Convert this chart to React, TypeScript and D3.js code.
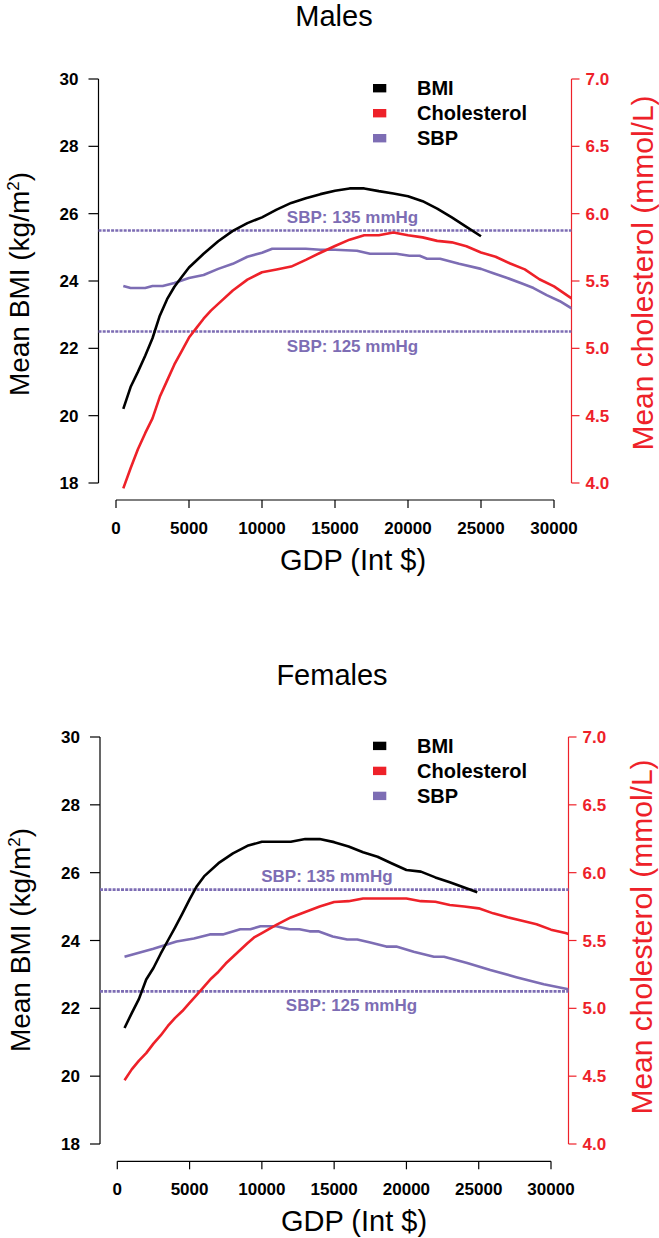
import React from "react";
import * as d3 from "d3";

// ---------- DATA ----------
const xTicks = [0, 5000, 10000, 15000, 20000, 25000, 30000];
const bmiTicks = [18, 20, 22, 24, 26, 28, 30];
const cholTicks = [4.0, 4.5, 5.0, 5.5, 6.0, 6.5, 7.0];
const legendItems = ["BMI", "Cholesterol", "SBP"];
const sbpRefs = [135, 125];

// Males
const maleBmiGdp = [500, 1000, 1500, 2000, 2500, 3000, 3500, 4000, 4500, 5000, 6000, 7000, 8000, 9000, 10000, 11000, 12000, 13000, 14000, 15000, 16000, 17000, 18000, 19000, 20000, 21000, 22000, 23000, 24000, 25000];
const maleBmi = [20.2, 20.85, 21.3, 21.78, 22.3, 22.97, 23.46, 23.83, 24.12, 24.4, 24.81, 25.18, 25.49, 25.72, 25.89, 26.12, 26.32, 26.46, 26.58, 26.68, 26.75, 26.75, 26.67, 26.6, 26.52, 26.37, 26.15, 25.89, 25.61, 25.33];

const maleCholGdp = [500, 1000, 1500, 2000, 2500, 3000, 3500, 4000, 4500, 5000, 5500, 6000, 6500, 7000, 8000, 9000, 10000, 11000, 12000, 13000, 14000, 15000, 16000, 17000, 18000, 19000, 20000, 21000, 22000, 23000, 24000, 25000, 26000, 27000, 28000, 29000, 30000, 31000, 31500];
const maleChol = [3.96, 4.11, 4.25, 4.37, 4.48, 4.64, 4.76, 4.88, 4.98, 5.08, 5.15, 5.22, 5.28, 5.33, 5.43, 5.51, 5.565, 5.585, 5.607, 5.657, 5.71, 5.76, 5.807, 5.84, 5.84, 5.86, 5.84, 5.824, 5.798, 5.787, 5.758, 5.712, 5.68, 5.63, 5.586, 5.513, 5.46, 5.386, 5.35];

const maleSbpGdp = [500, 1000, 2000, 2500, 3200, 4000, 5000, 6000, 7000, 8000, 9000, 10000, 10700, 12000, 13000, 14000, 15000, 16500, 17400, 19200, 20100, 20800, 21300, 22200, 23500, 25000, 25800, 26800, 27900, 28600, 29500, 30400, 31200, 31500];
const maleSbp = [129.5, 129.3, 129.3, 129.5, 129.5, 129.8, 130.3, 130.6, 131.2, 131.7, 132.4, 132.8, 133.2, 133.2, 133.2, 133.1, 133.1, 133.0, 132.7, 132.7, 132.5, 132.5, 132.2, 132.2, 131.7, 131.2, 130.8, 130.3, 129.7, 129.3, 128.6, 128.0, 127.3, 127.1];

// Females
const femBmiGdp = [500, 1000, 1500, 2000, 2500, 3000, 3500, 4000, 4500, 5000, 5500, 6000, 7000, 8000, 9000, 10000, 11000, 12000, 13000, 14000, 15000, 16000, 17000, 18000, 19000, 20000, 21000, 22000, 23000, 24000, 24900];
const femBmi = [21.42, 21.86, 22.28, 22.85, 23.19, 23.61, 24.0, 24.39, 24.79, 25.21, 25.6, 25.89, 26.28, 26.57, 26.79, 26.91, 26.91, 26.91, 26.99, 26.99, 26.9, 26.77, 26.6, 26.47, 26.27, 26.08, 26.03, 25.86, 25.72, 25.56, 25.42];

const femCholGdp = [500, 1000, 1500, 2000, 2500, 3000, 3500, 4000, 4500, 5000, 5500, 6000, 6500, 7000, 7500, 8000, 8500, 9000, 9500, 10000, 11000, 12000, 13000, 14000, 15000, 16000, 17000, 18000, 19000, 20000, 21000, 22000, 23000, 24000, 25000, 26000, 27000, 28000, 29000, 30000, 31000, 31500];
const femChol = [4.47, 4.55, 4.615, 4.67, 4.74, 4.8, 4.87, 4.93, 4.98, 5.04, 5.1, 5.16, 5.22, 5.27, 5.33, 5.38, 5.43, 5.48, 5.525, 5.555, 5.615, 5.67, 5.71, 5.75, 5.784, 5.79, 5.81, 5.81, 5.81, 5.81, 5.79, 5.786, 5.762, 5.75, 5.737, 5.7, 5.671, 5.645, 5.62, 5.58, 5.555, 5.54];

const femSbpGdp = [500, 2500, 4100, 5300, 6400, 7300, 8500, 9200, 9900, 11000, 11900, 12600, 13300, 13900, 14900, 15900, 16600, 17500, 18600, 19300, 20500, 21900, 22600, 24200, 25800, 27600, 29500, 31200, 31500];
const femSbp = [128.4, 129.2, 129.9, 130.2, 130.6, 130.6, 131.1, 131.1, 131.4, 131.4, 131.1, 131.1, 130.9, 130.9, 130.4, 130.1, 130.1, 129.8, 129.4, 129.4, 128.9, 128.4, 128.4, 127.8, 127.1, 126.4, 125.7, 125.2, 125.1];

// annotation x positions (GDP units) for the SBP reference labels
const maleRefLabelX = [16200, 16200];
const femRefLabelX = [14500, 16200];

// ---------- STYLE ----------
const FONT = "'Liberation Sans', Arial, Helvetica, sans-serif";
const RED = "#EE2129";
const PURPLE = "#7D6DB4";
const BLACK = "#000000";

type Panel = {
  title: string;
  titleX: number;
  titleY: number;
  left: number; right: number; top: number; bottom: number;
  x0: number; x1: number; y18: number; y30: number;
  bmiG: number[]; bmi: number[];
  cholG: number[]; chol: number[];
  sbpG: number[]; sbp: number[];
  refLabelX: number[];
  leftLabelX: number; leftLabelY: number;
  rightLabelX: number; rightLabelY: number;
  xLabelX: number;
  id: string;
};

const panels: Panel[] = [
  {
    id: "m", title: "Males", titleX: 334, titleY: 26,
    left: 98.5, right: 571.5, top: 63, bottom: 499,
    x0: 116, x1: 554, y18: 483, y30: 79,
    bmiG: maleBmiGdp, bmi: maleBmi, cholG: maleCholGdp, chol: maleChol, sbpG: maleSbpGdp, sbp: maleSbp,
    refLabelX: maleRefLabelX,
    leftLabelX: 29, leftLabelY: 284, rightLabelX: 653, rightLabelY: 273, xLabelX: 353,
  },
  {
    id: "f", title: "Females", titleX: 332, titleY: 685,
    left: 100, right: 568.5, top: 720.7, bottom: 1160.3,
    x0: 117.3, x1: 551, y18: 1144, y30: 737,
    bmiG: femBmiGdp, bmi: femBmi, cholG: femCholGdp, chol: femChol, sbpG: femSbpGdp, sbp: femSbp,
    refLabelX: femRefLabelX,
    leftLabelX: 30, leftLabelY: 940, rightLabelX: 652, rightLabelY: 937, xLabelX: 354,
  },
];

function PanelView({ p }: { p: Panel }) {
  const x = d3.scaleLinear().domain([0, 30000]).range([p.x0, p.x1]);
  const yB = d3.scaleLinear().domain([18, 30]).range([p.y18, p.y30]);
  const yC = d3.scaleLinear().domain([4, 7]).range([p.y18, p.y30]);
  const yS = d3.scaleLinear().domain([110, 150]).range([p.y18, p.y30]);

  const mk = (gx: number[], vals: number[], ys: d3.ScaleLinear<number, number>) =>
    d3.line<number>().x((_, i) => x(gx[i])).y((v) => ys(v))(vals) || "";

  const clipId = `clip-${p.id}`;
  const legendY0 = p.top + 25;

  return (
    <g>
      <defs>
        <clipPath id={clipId}>
          <rect x={p.left} y={p.top} width={p.right - p.left} height={p.bottom - p.top} />
        </clipPath>
      </defs>
      {/* title */}
      <text x={p.titleX} y={p.titleY} textAnchor="middle" fontSize={29} fontFamily={FONT}>{p.title}</text>

      {/* left axis */}
      <line x1={p.left} x2={p.left} y1={yB(18)} y2={yB(30)} stroke="#000" strokeWidth={1.2} />
      {bmiTicks.map((t) => (
        <g key={`l${t}`}>
          <line x1={p.left - 10} x2={p.left} y1={yB(t)} y2={yB(t)} stroke="#000" strokeWidth={1.2} />
          <text x={p.left - 20} y={yB(t)} dy="0.36em" textAnchor="end" fontSize={17} fontWeight="bold" fontFamily={FONT}>{t}</text>
        </g>
      ))}

      {/* right axis */}
      <line x1={p.right} x2={p.right} y1={yC(4)} y2={yC(7)} stroke={RED} strokeWidth={1.2} />
      {cholTicks.map((t) => (
        <g key={`r${t}`}>
          <line x1={p.right} x2={p.right + 8} y1={yC(t)} y2={yC(t)} stroke={RED} strokeWidth={1.2} />
          <text x={p.right + 14} y={yC(t)} dy="0.36em" textAnchor="start" fontSize={17} fontWeight="bold" fill={RED} fontFamily={FONT}>{t.toFixed(1)}</text>
        </g>
      ))}

      {/* bottom axis */}
      <line x1={x(0)} x2={x(30000)} y1={p.bottom + 1} y2={p.bottom + 1} stroke="#000" strokeWidth={1.2} />
      {xTicks.map((t) => (
        <g key={`x${t}`}>
          <line x1={x(t)} x2={x(t)} y1={p.bottom + 1} y2={p.bottom + 9} stroke="#000" strokeWidth={1.2} />
          <text x={x(t)} y={p.bottom + 35} textAnchor="middle" fontSize={17} fontWeight="bold" fontFamily={FONT}>{t}</text>
        </g>
      ))}

      {/* axis titles */}
      <text x={p.xLabelX} y={p.bottom + 71} textAnchor="middle" fontSize={29} fontFamily={FONT}>GDP (Int $)</text>
      <text transform={`translate(${p.leftLabelX},${p.leftLabelY}) rotate(-90)`} textAnchor="middle" fontSize={28} fontFamily={FONT}>
        Mean BMI (kg/m<tspan dy={-10} fontSize={17}>2</tspan><tspan dy={10}>)</tspan>
      </text>
      <text transform={`translate(${p.rightLabelX},${p.rightLabelY}) rotate(-90)`} textAnchor="middle" fontSize={30} fill={RED} fontFamily={FONT}>Mean cholesterol (mmol/L)</text>

      {/* SBP reference lines */}
      {sbpRefs.map((s, i) => (
        <g key={`ref${s}`}>
          <line x1={p.left} x2={p.right} y1={yS(s)} y2={yS(s)} stroke={PURPLE} strokeWidth={2.6} strokeDasharray="3 1.2" />
          <text x={x(p.refLabelX[i])} y={yS(s) + (i === 0 ? -14 : 14)} dy="0.36em" textAnchor="middle" fontSize={17} fontWeight="bold" fill={PURPLE} fontFamily={FONT}>{`SBP: ${s} mmHg`}</text>
        </g>
      ))}

      {/* data lines */}
      <g clipPath={`url(#${clipId})`} fill="none" strokeLinejoin="round">
        <path d={mk(p.sbpG, p.sbp, yS)} stroke={PURPLE} strokeWidth={2.6} />
        <path d={mk(p.cholG, p.chol, yC)} stroke={RED} strokeWidth={2.6} />
        <path d={mk(p.bmiG, p.bmi, yB)} stroke={BLACK} strokeWidth={2.6} />
      </g>

      {/* legend */}
      {legendItems.map((name, i) => (
        <g key={name}>
          <rect x={373} y={legendY0 + i * 25 - 4} width={13.3} height={8.4} fill={[BLACK, RED, PURPLE][i]} />
          <text x={417} y={legendY0 + i * 25} dy="0.36em" fontSize={20} fontWeight="bold" fontFamily={FONT}>{name}</text>
        </g>
      ))}
    </g>
  );
}

export default function App() {
  return (
    <svg width={659} height={1238} style={{ position: "absolute", left: 0, top: 0, background: "#fff" }}>
      <rect width={659} height={1238} fill="#fff" />
      {panels.map((p) => (
        <PanelView key={p.id} p={p} />
      ))}
    </svg>
  );
}
